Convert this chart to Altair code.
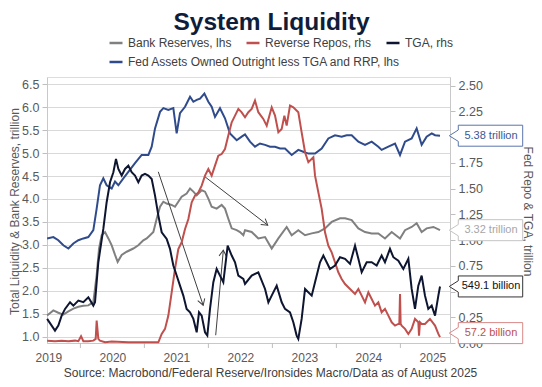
import altair as alt
import pandas as pd

TITLE = "System Liquidity"
SOURCE = "Source: Macrobond/Federal Reserve/Ironsides Macro/Data as of August 2025"
SERIES = ["Bank Reserves, lhs", "Reverse Repos, rhs", "TGA, rhs",
          "Fed Assets Owned Outright less TGA and RRP, lhs"]
COLORS = ["#808080", "#c0504d", "#0d1530", "#2f4b8c"]

X_DOMAIN = [2019.478, 2025.775]
LEFT_DOMAIN = [0.86, 6.66]
RIGHT_DOMAIN = [0.0, 2.583]
LEFT_TICKS = [1.0, 1.5, 2.0, 2.5, 3.0, 3.5, 4.0, 4.5, 5.0, 5.5, 6.0, 6.5]
RIGHT_TICKS = [0.0, 0.25, 0.5, 0.75, 1.0, 1.25, 1.5, 1.75, 2.0, 2.25, 2.5]
YEAR_LABEL_POS = [2019.5, 2020.5, 2021.5, 2022.5, 2023.5, 2024.5, 2025.5]
YEAR_TICKS = [2020, 2021, 2022, 2023, 2024, 2025]

# Fed assets owned outright less TGA and RRP (trillion, lhs)
fed_t = [2019.48, 2019.577, 2019.655, 2019.733, 2019.812, 2019.89, 2019.968, 2020.046, 2020.124, 2020.202,
         2020.254, 2020.306, 2020.358, 2020.41, 2020.489, 2020.541, 2020.593, 2020.671, 2020.749, 2020.853,
         2020.957, 2021.009, 2021.062, 2021.114, 2021.166, 2021.244, 2021.296, 2021.374, 2021.452, 2021.504,
         2021.556, 2021.635, 2021.713, 2021.765, 2021.817, 2021.869, 2021.937, 2021.999, 2022.051, 2022.103,
         2022.181, 2022.259, 2022.337, 2022.442, 2022.52,
         2022.572, 2022.65, 2022.728, 2022.806, 2022.885, 2022.963, 2023.041, 2023.119, 2023.197, 2023.301,
         2023.405, 2023.483, 2023.562, 2023.666, 2023.77, 2023.874, 2023.978, 2024.082, 2024.16, 2024.239,
         2024.343, 2024.447, 2024.551, 2024.655, 2024.707, 2024.812, 2024.916, 2024.994, 2025.072, 2025.176,
         2025.254, 2025.332, 2025.41, 2025.489, 2025.541, 2025.619]
fed_v = [3.14, 3.17, 3.10, 2.99, 2.92, 3.03, 3.10, 3.14, 3.17, 3.32,
         3.79, 4.30, 4.45, 4.30, 4.23, 4.38, 4.30, 4.45, 4.59, 4.78,
         4.96, 4.96, 4.96, 5.14, 5.54, 5.90, 5.98, 5.94, 5.98, 5.43,
         5.87, 6.01, 6.23, 6.12, 6.16, 6.19, 6.30, 6.12, 6.01, 5.79,
         5.98, 5.76, 5.43, 5.28, 5.36,
         5.41, 5.25, 5.14, 5.21, 5.18, 5.14, 5.14, 5.10, 5.10, 4.96,
         5.07, 5.03, 4.99, 4.99, 5.10, 5.32, 5.39, 5.36, 5.39, 5.39,
         5.25, 5.18, 5.25, 5.14, 5.07, 5.14, 5.21, 4.96, 5.25, 5.32,
         5.54, 5.18, 5.36, 5.43, 5.39, 5.38]

# Bank reserves (trillion, lhs)
res_t = [2019.48, 2019.577, 2019.655, 2019.733, 2019.812, 2019.89, 2019.968, 2020.046, 2020.124, 2020.202,
         2020.254, 2020.291, 2020.332, 2020.385, 2020.437, 2020.489, 2020.541, 2020.582, 2020.645, 2020.723,
         2020.827, 2020.905, 2020.983, 2021.036, 2021.088, 2021.14, 2021.192, 2021.244, 2021.296, 2021.348,
         2021.426, 2021.478, 2021.53, 2021.582, 2021.66, 2021.713, 2021.765, 2021.817, 2021.895, 2021.947,
         2021.999, 2022.051, 2022.129, 2022.207, 2022.259, 2022.311, 2022.364, 2022.442, 2022.494, 2022.546,
         2022.572, 2022.676, 2022.78, 2022.885, 2022.989, 2023.093, 2023.223, 2023.301, 2023.405, 2023.51,
         2023.614, 2023.718, 2023.822, 2023.926, 2024.056, 2024.135, 2024.239, 2024.343, 2024.447, 2024.551,
         2024.655, 2024.759, 2024.864, 2024.994, 2025.072, 2025.176, 2025.254, 2025.332, 2025.41, 2025.515,
         2025.619]
res_v = [1.46, 1.57, 1.52, 1.48, 1.55, 1.61, 1.65, 1.67, 1.68, 1.75,
         2.34, 2.92, 3.21, 3.28, 3.14, 2.99, 2.78, 2.63, 2.78, 2.85,
         2.92, 2.99, 3.10, 3.14, 3.21, 3.28, 3.57, 3.83, 3.94, 3.90,
         3.87, 3.83, 3.94, 4.05, 4.12, 4.23, 4.16, 4.08, 4.19, 4.16,
         4.01, 3.83, 3.79, 3.87, 3.79, 3.57, 3.36, 3.32, 3.28, 3.21,
         3.32, 3.28, 3.14, 3.17, 2.92, 3.14, 3.39, 3.21, 3.32, 3.21,
         3.25, 3.28, 3.36, 3.50, 3.58, 3.58, 3.54, 3.36, 3.28, 3.25,
         3.25, 3.14, 3.28, 3.14, 3.32, 3.39, 3.47, 3.28, 3.36, 3.39,
         3.32]

# Treasury General Account (trillion, rhs)
tga_t = [2019.48, 2019.551, 2019.603, 2019.655, 2019.707, 2019.76, 2019.838, 2019.89, 2019.968, 2020.046,
         2020.124, 2020.202, 2020.228, 2020.28, 2020.358, 2020.41, 2020.463, 2020.515, 2020.556, 2020.593,
         2020.645, 2020.697, 2020.749, 2020.801, 2020.853, 2020.905, 2020.957, 2021.009, 2021.062, 2021.114,
         2021.166, 2021.218, 2021.27, 2021.348, 2021.4, 2021.452, 2021.504, 2021.556, 2021.608, 2021.66,
         2021.713, 2021.765, 2021.817, 2021.853, 2021.895, 2021.947, 2021.983, 2022.025, 2022.077, 2022.129,
         2022.181, 2022.233, 2022.301, 2022.364, 2022.416, 2022.468, 2022.546,
         2022.572, 2022.676, 2022.78, 2022.885, 2022.937, 2022.989, 2023.067, 2023.145, 2023.197, 2023.275,
         2023.327, 2023.379, 2023.405, 2023.457, 2023.51, 2023.614, 2023.666, 2023.744, 2023.796, 2023.848,
         2023.9, 2023.978, 2024.056, 2024.135, 2024.213, 2024.291, 2024.343, 2024.395, 2024.473, 2024.551,
         2024.629, 2024.707, 2024.759, 2024.837, 2024.89, 2024.968, 2025.046, 2025.124, 2025.176, 2025.228,
         2025.28, 2025.332, 2025.384, 2025.436, 2025.489, 2025.541, 2025.593, 2025.619]
tga_v = [0.234, 0.169, 0.12, 0.169, 0.266, 0.331, 0.396, 0.363, 0.412, 0.396,
         0.444, 0.363, 0.396, 0.784, 1.108, 1.367, 1.561, 1.658, 1.788, 1.69,
         1.626, 1.69, 1.722, 1.658, 1.626, 1.561, 1.626, 1.642, 1.626, 1.593,
         1.431, 1.237, 1.075, 1.011, 0.914, 0.752, 0.655, 0.557, 0.46, 0.331,
         0.298, 0.234, 0.104, 0.298, 0.266, 0.104, 0.072, 0.331, 0.59, 0.719,
         0.654, 0.59, 0.946, 0.849, 0.784, 0.654, 0.622,
         0.573, 0.655, 0.687, 0.525, 0.395, 0.46, 0.557, 0.395, 0.331, 0.298,
         0.201, 0.072, 0.04, 0.234, 0.525, 0.46, 0.59, 0.784, 0.849, 0.784,
         0.719, 0.752, 0.833, 0.817, 0.768, 0.946, 0.817, 0.687, 0.784, 0.784,
         0.752, 0.849, 0.784, 0.914, 0.833, 0.8, 0.719, 0.817, 0.525, 0.331,
         0.557, 0.654, 0.46, 0.331, 0.363, 0.266, 0.46, 0.549]

# Reverse repos (trillion, rhs)
rrp_t = [2019.48, 2019.603, 2019.707, 2019.812, 2019.916, 2019.968, 2020.01, 2020.046, 2020.124, 2020.202,
         2020.239, 2020.254, 2020.28, 2020.306, 2020.385, 2020.489, 2020.749, 2021.009, 2021.218, 2021.27,
         2021.322, 2021.374, 2021.426, 2021.478, 2021.53, 2021.582, 2021.635, 2021.687, 2021.739, 2021.791,
         2021.843, 2021.895, 2021.947, 2021.999, 2022.051, 2022.103, 2022.155, 2022.207, 2022.259, 2022.311,
         2022.364, 2022.416, 2022.468, 2022.52,
         2022.572, 2022.624, 2022.676, 2022.728, 2022.78, 2022.858, 2022.911, 2022.989, 2023.041, 2023.093,
         2023.145, 2023.187, 2023.223, 2023.275, 2023.327, 2023.405, 2023.457, 2023.51, 2023.562, 2023.64,
         2023.666, 2023.718, 2023.77, 2023.822, 2023.874, 2023.926, 2023.978, 2024.03, 2024.082, 2024.135,
         2024.213, 2024.291, 2024.343, 2024.395, 2024.447, 2024.499, 2024.551, 2024.603, 2024.655, 2024.707,
         2024.759, 2024.812, 2024.864, 2024.916, 2024.968, 2024.983, 2024.994, 2025.004, 2025.02, 2025.072,
         2025.124, 2025.176, 2025.228, 2025.28, 2025.291, 2025.306, 2025.332, 2025.384, 2025.462, 2025.541,
         2025.593, 2025.619]
rrp_v = [0.023, 0.017, 0.023, 0.017, 0.023, 0.017, 0.066, 0.017, 0.017, 0.023,
         0.04, 0.217, 0.04, 0.023, 0.007, 0.014, 0.007, 0.007, 0.007, 0.088,
         0.137, 0.266, 0.492, 0.719, 0.913, 0.978, 1.107, 1.204, 1.366, 1.431,
         1.463, 1.528, 1.625, 1.69, 1.625, 1.722, 1.819, 1.835, 1.884, 2.014,
         2.143, 2.208, 2.273, 2.24,
         2.192, 2.241, 2.273, 2.354, 2.241, 2.176, 2.111, 2.289, 2.208, 2.046,
         2.079, 2.208, 2.111, 2.306, 2.289, 2.241, 2.046, 1.852, 1.755, 1.803,
         1.625, 1.463, 1.302, 1.075, 0.945, 0.881, 0.784, 0.687, 0.622, 0.573,
         0.524, 0.476, 0.524, 0.46, 0.395, 0.492, 0.427, 0.363, 0.395, 0.298,
         0.331, 0.266, 0.201, 0.169, 0.185, 0.185, 0.476, 0.185, 0.169, 0.137,
         0.088, 0.137, 0.234, 0.201, 0.071, 0.201, 0.185, 0.185, 0.234, 0.169,
         0.088, 0.057]

# End-of-series callouts
LEFT_CALLOUT_V = [5.38, 3.32]
LEFT_CALLOUT_TXT = ["5.38 trillion", "3.32 trillion"]
LEFT_CALLOUT_TXT_COLOR = ["#3a5796", "#a6a6a6"]
LEFT_CALLOUT_BOX_COLOR = ["#5a74aa", "#c4c4c4"]
LEFT_CALLOUT_SHIFT = [0, 0]
RIGHT_CALLOUT_V = [0.5491, 0.0572]
RIGHT_CALLOUT_TXT = ["549.1 billion", "57.2 billion"]
RIGHT_CALLOUT_TXT_COLOR = ["#111111", "#c0504d"]
RIGHT_CALLOUT_BOX_COLOR = ["#333333", "#d98886"]
RIGHT_CALLOUT_SHIFT = [0, -4]

# Annotation arrows (left-axis coordinates), head at the end point
ARROW_T1 = [2021.217, 2022.114, 2021.947]
ARROW_V1 = [4.593, 1.029, 4.483]
ARROW_T2 = [2021.918, 2022.233, 2022.927]
ARROW_V2 = [1.683, 2.884, 3.429]
ARROW_ANGLE = [161.4, 5.1, 127.6]

FONT = "Liberation Sans"
W, H = 403, 266

BOX_PATH = ("M-1,0 L-0.755,-0.155 L-0.755,-0.286 L1,-0.286 L1,0.286 "
            "L-0.755,0.286 L-0.755,0.155 Z")
HEAD_PATH = "M-0.55,0.9 L0,0 L0.55,0.9"

res_df = pd.DataFrame({"t": res_t, "v": res_v, "series": SERIES[0]})
fed_df = pd.DataFrame({"t": fed_t, "v": fed_v, "series": SERIES[3]})
right_df = pd.DataFrame({
    "t": rrp_t + tga_t,
    "v": rrp_v + tga_v,
    "series": [SERIES[1]] * len(rrp_t) + [SERIES[2]] * len(tga_t),
})
arrow_df = pd.DataFrame({"t": ARROW_T1, "v": ARROW_V1, "t2": ARROW_T2, "v2": ARROW_V2})
head_df = pd.DataFrame({"t": ARROW_T2, "v": ARROW_V2, "ang": ARROW_ANGLE})
tick_df = pd.DataFrame({"t": YEAR_TICKS})

x_axis = alt.Axis(
    values=YEAR_LABEL_POS, labelExpr="floor(datum.value)", ticks=False, grid=False,
    domainColor="#c8c8c8", labelFontSize=12, labelColor="#595959", labelPadding=9,
    labelFlush=False, labelOverlap=False, labelFont=FONT,
    title=SOURCE, titleFont=FONT, titleFontSize=12, titleFontWeight="normal",
    titleColor="#404040", titleX=223, titleY=33.5, titleAlign="center",
    titleBaseline="alphabetic",
)
X = alt.X("t:Q", scale=alt.Scale(domain=X_DOMAIN, nice=False, zero=False), axis=x_axis)

left_axis = alt.Axis(
    values=LEFT_TICKS, format=".1f", orient="left", grid=True, gridColor="#d9d9d9",
    domainColor="#c8c8c8", tickColor="#bfbfbf", tickSize=5, labelFontSize=12.5,
    labelColor="#595959", labelPadding=3, labelFont=FONT,
    title="Total Liquidity & Bank Reserves, trillion", titleFont=FONT, titleFontSize=12,
    titleFontWeight="normal", titleColor="#595959", titleX=-33, titleY=134,
    titleAngle=270, titleAlign="center", titleBaseline="middle",
)
right_axis = alt.Axis(
    values=RIGHT_TICKS, format=".2f", orient="right", grid=False,
    domainColor="#c8c8c8", tickColor="#bfbfbf", tickSize=5, labelFontSize=12.5,
    labelColor="#595959", labelPadding=3, labelFont=FONT,
    title="Fed Repo & TGA, trillion", titleFont=FONT, titleFontSize=12,
    titleFontWeight="normal", titleColor="#595959", titleX=77, titleY=134,
    titleAngle=90, titleAlign="center", titleBaseline="middle",
)
YL = alt.Y("v:Q", scale=alt.Scale(domain=LEFT_DOMAIN, nice=False, zero=False), axis=left_axis)
YR = alt.Y("v:Q", scale=alt.Scale(domain=RIGHT_DOMAIN, nice=False, zero=False), axis=right_axis)

LEGEND_STYLE = dict(
    orient="none", direction="horizontal", title=None, labelFontSize=12,
    labelColor="#404040", labelFont=FONT, symbolType="stroke", symbolStrokeWidth=2.5,
    symbolSize=169, labelOffset=4, columnPadding=9, padding=0, labelLimit=400,
)
COLOR = alt.Color(
    "series:N", scale=alt.Scale(domain=SERIES[:3], range=COLORS[:3]),
    legend=alt.Legend(legendX=61, legendY=-42, **LEGEND_STYLE),
)
STROKE = alt.Stroke(
    "series:N", scale=alt.Scale(domain=SERIES[3:], range=COLORS[3:]),
    legend=alt.Legend(legendX=61, legendY=-23, **LEGEND_STYLE),
)

res_line = alt.Chart(res_df).mark_line(strokeWidth=2).encode(x=X, y=YL, color=COLOR)
fed_line = alt.Chart(fed_df).mark_line(strokeWidth=2).encode(x=X, y=YL, stroke=STROKE)
right_lines = alt.Chart(right_df).mark_line(strokeWidth=2).encode(x=X, y=YR, color=COLOR)

year_ticks = alt.Chart(tick_df).mark_rule(color="#bfbfbf", strokeWidth=1).encode(
    x=X, y=alt.value(H), y2=alt.value(H + 5))

arrows = alt.Chart(arrow_df).mark_rule(color="#404040", strokeWidth=1).encode(
    x=X, x2="t2:Q", y=YL, y2="v2:Q")
heads = alt.Chart(head_df).mark_point(
    shape=HEAD_PATH, size=180, filled=False, stroke="#404040", strokeWidth=1, opacity=1
).encode(x=X, y=YL, angle=alt.Angle("ang:Q", scale=None))


def callouts(values, texts, tcolors, bcolors, shifts, y):
    layers = []
    for v, txt, tc, bc, dy in zip(values, texts, tcolors, bcolors, shifts):
        df = pd.DataFrame({"v": [v], "txt": [txt]})
        layers.append(alt.Chart(df).mark_point(
            shape=BOX_PATH, size=5388, filled=True, fill="white", stroke=bc,
            strokeWidth=1, opacity=1, yOffset=dy
        ).encode(x=alt.value(W + 36), y=y))
        layers.append(alt.Chart(df).mark_text(
            align="center", baseline="middle", fontSize=11, font=FONT, color=tc, yOffset=dy
        ).encode(x=alt.value(W + 41), y=y, text="txt:N"))
    return layers


left_layer = alt.layer(
    res_line, fed_line, year_ticks, arrows, heads,
    *callouts(LEFT_CALLOUT_V, LEFT_CALLOUT_TXT, LEFT_CALLOUT_TXT_COLOR,
              LEFT_CALLOUT_BOX_COLOR, LEFT_CALLOUT_SHIFT, YL))
right_layer = alt.layer(
    right_lines,
    *callouts(RIGHT_CALLOUT_V, RIGHT_CALLOUT_TXT, RIGHT_CALLOUT_TXT_COLOR,
              RIGHT_CALLOUT_BOX_COLOR, RIGHT_CALLOUT_SHIFT, YR))

chart = alt.layer(left_layer, right_layer).resolve_scale(y="independent").properties(
    width=W, height=H,
    title=alt.TitleParams(TITLE, font=FONT, fontSize=24.5, fontWeight="bold", color="#0f1d3a",
                          anchor="middle", frame="group", dx=23, offset=0),
    autosize=alt.AutoSizeParams(type="none"),
    padding={"left": 39, "top": 69, "right": 84, "bottom": 36},
).configure_view(stroke=None).configure(font=FONT)

chart.save("out.html", embed_options={"renderer": "svg", "actions": False})
